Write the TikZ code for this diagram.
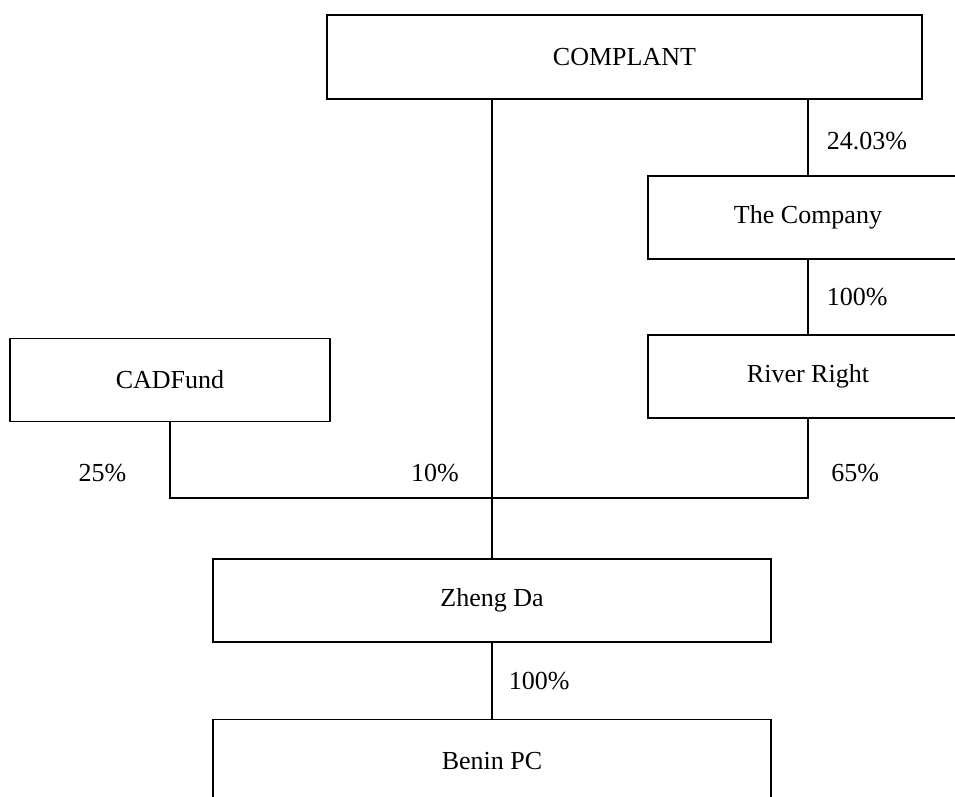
\documentclass[tikz,border=0pt]{standalone}
\usepackage{fontspec}
\setmainfont{Liberation Serif}

\tikzset{
  box/.style={draw, line width=0.9pt, inner sep=0pt, minimum width=160pt, minimum height=41.5pt},
  widebox/.style={box, minimum width=279pt},
  pct/.style={anchor=west, inner sep=0pt}
}

\begin{document}
\begin{tikzpicture}[x=0.5pt,y=-0.5pt,every node/.style={font=\fontsize{13}{15}\selectfont}]
    \clip (0,0) rectangle (955,797);

    % The holders
    \node[box, minimum width=297.5pt, minimum height=42pt] (complant) at (624.5,57) {COMPLANT};
    \node[box] (company) at (808,217.5) {The Company};
    \node[box] (river) at (808,376.5) {River Right};
    \node[box] (cadfund) at (170,380) {CADFund};

    % The companies held
    \node[widebox] (zhengda) at (492,600.5) {Zheng Da};
    \node[widebox] (benin) at (492,761) {Benin PC};

    % Where the three stakes meet
    \coordinate (bus) at (492,498);

    % Connections with their shares
    \draw[line width=0.9pt] (company.north |- complant.south) -- (company.north)
        node[pct, pos=0.55, xshift=9pt] {24.03\%};
    \draw[line width=0.9pt] (company.south) -- (river.north)
        node[pct, midway, xshift=9pt] {100\%};
    \draw[line width=0.9pt] (zhengda.north |- complant.south) -- (zhengda.north);
    \draw[line width=0.9pt] (cadfund.south) |- (bus) -| (river.south);
    \draw[line width=0.9pt] (zhengda.south) -- (benin.north)
        node[pct, midway, xshift=8pt] {100\%};

    % Labels of the stakes
    \node (cadpct) at (102.5,473) {25\%};
    \node (ownpct) at (435,473) {10\%};
    \node[pct] (rivpct) at (831,473) {65\%};
\end{tikzpicture}
\end{document}
